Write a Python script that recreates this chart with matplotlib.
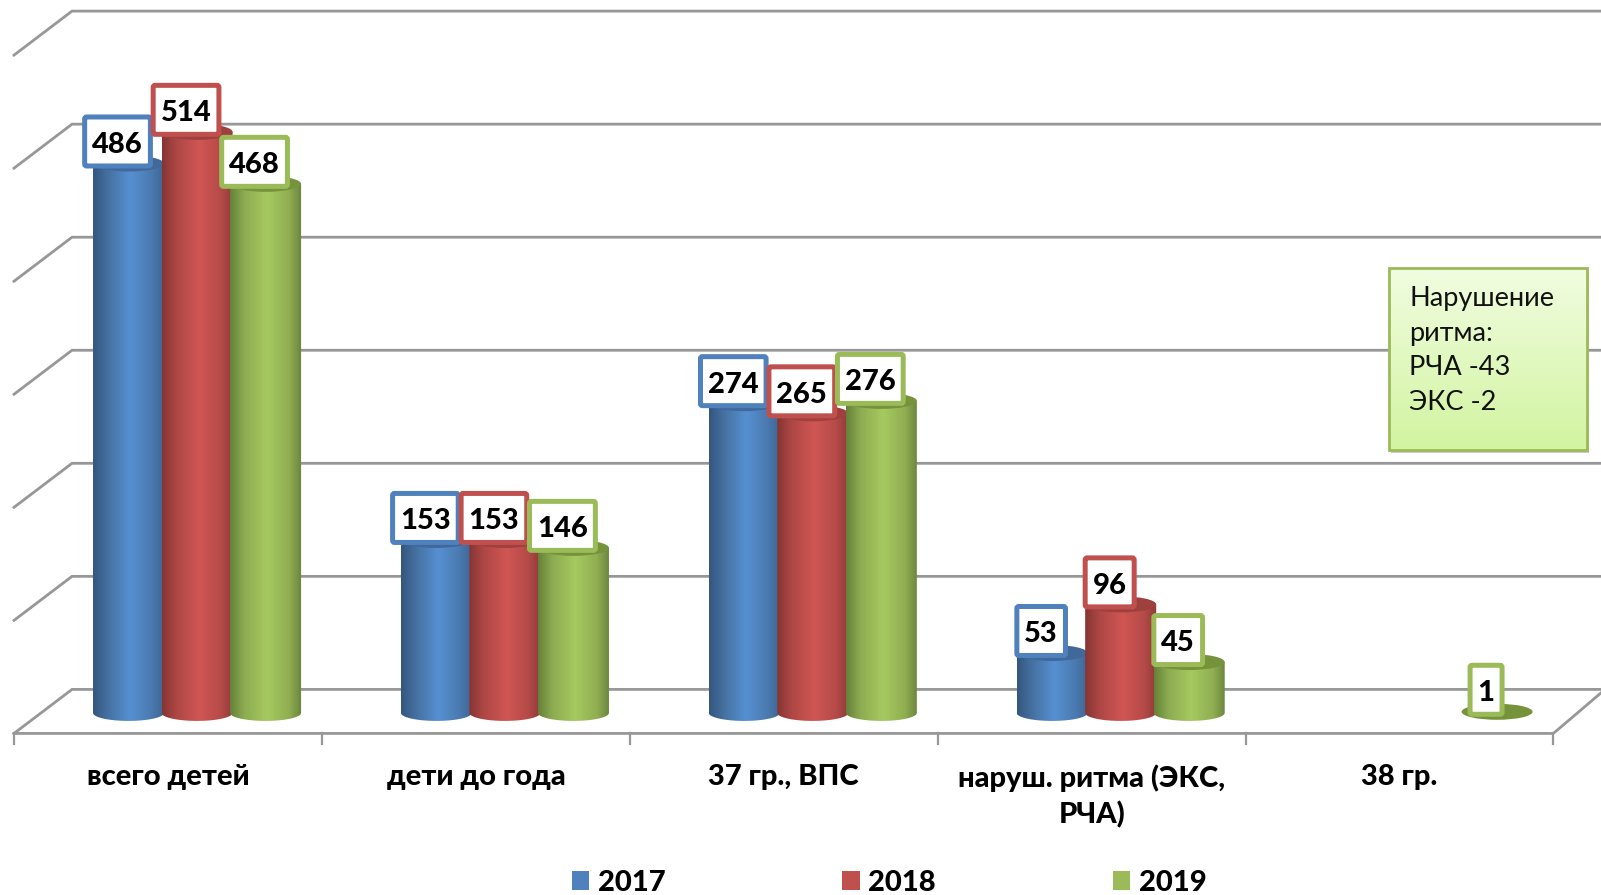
import numpy as np
import matplotlib
matplotlib.use('Agg')
import matplotlib.pyplot as plt
from matplotlib.colors import LinearSegmentedColormap
from matplotlib.patches import BoxStyle, Ellipse, PathPatch, Rectangle, Patch
from matplotlib.path import Path

categories = ['всего детей', 'дети до года', '37 гр., ВПС', 'наруш. ритма (ЭКС,\nРЧА)', '38 гр.']
years = ['2017', '2018', '2019']
values_2017 = [486, 153, 274, 53, None]
values_2018 = [514, 153, 265, 96, None]
values_2019 = [468, 146, 276, 45, 1]
grid_values = [0, 100, 200, 300, 400, 500, 600]
note_text = 'Нарушение\nритма:\nРЧА -43\nЭКС -2'

W, H = 1601, 895
# pixel geometry of the fake 3D chart
X0, X_STEP = 197.0, 307.8
Y0, Y_SCALE = 713.0, 1.13
BAR_W = 71.0
BAR_STEP = 68.5
RY = 8.0

def dx(px):
    return (px - X0) / X_STEP

def dy(py):
    return (Y0 - py) / Y_SCALE

# label frame: separate x and y padding in pixels
round_box = BoxStyle.Round(pad=0, rounding_size=2)

def label_box(x0, y0, width, height, mutation_size):
    return round_box(x0 - 7.5, y0 - 8.5, width + 15, height + 23, 1)

plt.rcParams['font.family'] = ['Lato', 'Open Sans', 'DejaVu Sans']
fig = plt.figure(figsize=((W + 0.4) / 100, (H + 0.4) / 100), dpi=100)
ax = fig.add_axes([0, 0, 1, 1])
ax.axis('off')

wall = '#979797'
wall_lw = 2.0
back_shift = dy(689.5)
front_shift = dy(733.5)
x_back, x_front = dx(72), dx(14)

for v in grid_values:
    ax.plot([x_front, x_back, dx(W + 5)], [v + front_shift, v + back_shift, v + back_shift],
            color=wall, lw=wall_lw, zorder=1, solid_joinstyle='miter')

# floor front edge, right edge and ticks
tick_x = [x_front + i for i in range(6)]
ax.plot([tick_x[0], tick_x[-1], dx(W + 5)], [front_shift, front_shift, back_shift + 1],
        color=wall, lw=wall_lw, zorder=1)
for t in tick_x:
    ax.plot([t, t], [front_shift, dy(744)], color=wall, lw=1.6, zorder=1)

series = [
    (values_2017, '#4F81BD', ['#34567f', '#45709f', '#5690d2', '#4a79ae', '#3e6493'], '#41689a'),
    (values_2018, '#C0504D', ['#853533', '#ad4745', '#d05653', '#b54b48', '#8f3a38'], '#9e403e'),
    (values_2019, '#9BBB59', ['#66803a', '#8dab51', '#a6ca60', '#90ae52', '#6a843c'], '#76933c'),
]
stops = [0.0, 0.2, 0.52, 0.82, 1.0]
theta = np.linspace(np.pi, 2 * np.pi, 40)
bw = BAR_W / X_STEP
ry = RY / Y_SCALE
z = 3
boxes = []
for s, (vals, edge, shades, top) in enumerate(series):
    cmap = LinearSegmentedColormap.from_list('cyl', list(zip(stops, shades)))
    offset = (s - 1) * BAR_STEP / X_STEP
    for i, v in enumerate(vals):
        if v is None:
            continue
        cx = i + offset
        left, right = cx - bw / 2, cx + bw / 2
        if v > 3:
            xs = cx + np.cos(theta) * bw / 2
            ys = np.sin(theta) * ry
            verts = [(left, v)] + list(zip(xs, ys)) + [(right, v), (left, v)]
            body = PathPatch(Path(verts), fc='none', ec='none', zorder=z)
            ax.add_patch(body)
            im = ax.imshow(np.linspace(0, 1, 256)[None, :], cmap=cmap, aspect='auto',
                           extent=(left, right, -ry - 1, v + 1), zorder=z, interpolation='bilinear')
            im.set_clip_path(body)
        ax.add_patch(Ellipse((cx, v), bw, 2 * ry, fc=top, ec='none', zorder=z + 0.5))
        z += 1
        boxes.append((cx - 11 / X_STEP, v, str(v), edge))

for bx, by, txt, edge in boxes:
    ax.text(bx, by + 19 / Y_SCALE, txt, ha='center', va='center', fontsize=21, fontweight=900,
            color='black', zorder=100,
            bbox=dict(boxstyle=label_box, fc='white', ec=edge, lw=3.6))

for i, c in enumerate(categories):
    ax.text(i + dx(168), dy(764), c, ha='center', va='top', fontsize=21, fontweight=900,
            linespacing=1.42, color='black', zorder=5)

# note box
nx0, nx1, ny0, ny1 = 1389, 1587, 268, 450
ax.add_patch(Rectangle((dx(nx0 + 2), dy(ny1 + 3)), (nx1 - nx0) / X_STEP, (ny1 - ny0) / Y_SCALE,
                       fc='#888888', alpha=0.45, ec='none', zorder=80))
note_cmap = LinearSegmentedColormap.from_list('note', ['#f1fde1', '#d2f4a0'])
ax.imshow(np.linspace(0, 1, 64)[:, None], cmap=note_cmap, aspect='auto',
          extent=(dx(nx0), dx(nx1), dy(ny1), dy(ny0)), zorder=81, origin='upper')
ax.add_patch(Rectangle((dx(nx0), dy(ny1)), (nx1 - nx0) / X_STEP, (ny1 - ny0) / Y_SCALE,
                       fc='none', ec='#9BBB59', lw=2, zorder=82))
ax.text(dx(1409), dy(286), note_text, ha='left', va='top', fontsize=19.5, linespacing=1.48,
        color='#111111', zorder=83)

ax.set_xlim(dx(0), dx(W))
ax.set_ylim(dy(H), dy(0))

handles = [Patch(fc=c[1], ec='none') for c in series]
ax.legend(handles, years, ncol=3, loc='center', bbox_to_anchor=(889 / W, 1 - 883 / H),
          frameon=False, prop=dict(size=21, weight=900), handlelength=0.6, handleheight=0.6,
          handletextpad=0.3, columnspacing=6.05, borderpad=0, borderaxespad=0)

fig.savefig('out.png', dpi=100)
